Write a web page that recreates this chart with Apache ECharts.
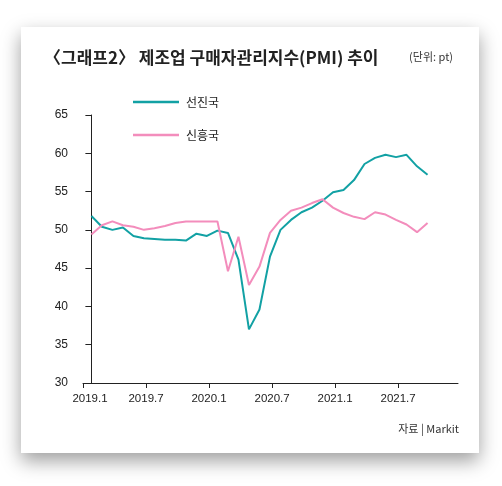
<!DOCTYPE html>
<html>
<head>
<meta charset="utf-8">
<script src="https://cdn.jsdelivr.net/npm/echarts@6/dist/echarts.min.js"></script>
<style>
  html, body { margin: 0; padding: 0; background: #fff; }
  #chart { width: 502px; height: 486px; }
</style>
</head>
<body>
<div id="chart"></div>
<script>
// monthly PMI, 2019.1 ~ 2021.9
var months = [
  '2019.1','2019.2','2019.3','2019.4','2019.5','2019.6','2019.7','2019.8','2019.9','2019.10','2019.11','2019.12',
  '2020.1','2020.2','2020.3','2020.4','2020.5','2020.6','2020.7','2020.8','2020.9','2020.10','2020.11','2020.12',
  '2021.1','2021.2','2021.3','2021.4','2021.5','2021.6','2021.7','2021.8','2021.9'
];
var advanced = [
  51.8, 50.4, 50.0, 50.3, 49.2, 48.9, 48.8, 48.7, 48.7, 48.6, 49.5, 49.2,
  49.9, 49.6, 46.1, 37.0, 39.6, 46.5, 50.0, 51.3, 52.3, 52.9, 53.8, 54.9,
  55.2, 56.5, 58.6, 59.4, 59.8, 59.5, 59.8, 58.3, 57.2
];
var emerging = [
  49.4, 50.6, 51.1, 50.6, 50.4, 50.0, 50.2, 50.5, 50.9, 51.1, 51.1, 51.1,
  51.1, 44.6, 49.1, 42.8, 45.2, 49.6, 51.3, 52.5, 52.9, 53.5, 54.0, 52.9,
  52.2, 51.7, 51.4, 52.3, 52.0, 51.3, 50.7, 49.7, 50.9
];
var seriesNames = ['선진국', '신흥국'];

// ticks sit a little before the month's point in the original
var labelLead = 0.8;

function pairs(vals) {
  var out = [];
  for (var i = 0; i < vals.length; i++) out.push([i, vals[i]]);
  return out;
}

var chart = echarts.init(document.getElementById('chart'));

var option = {
  backgroundColor: '#fff',
  animation: false,
  textStyle: { fontFamily: '"Liberation Sans", Arial, sans-serif' },
  graphic: [
    {
      type: 'rect', z: -10, silent: true,
      shape: { x: 21, y: 27, width: 458, height: 426 },
      style: { fill: '#fff', shadowBlur: 18, shadowOffsetY: 8, shadowColor: 'rgba(0,0,0,0.38)' }
    },
    {
      type: 'text', x: 44, y: 49,
      style: {
        text: '〈그래프2〉 제조업 구매자관리지수(PMI) 추이',
        font: 'bold 17px "Noto Sans CJK KR", sans-serif',
        fill: '#222'
      }
    },
    {
      type: 'text', x: 453, y: 51,
      style: {
        text: '(단위: pt)',
        align: 'right',
        font: '11px "Noto Sans CJK KR", sans-serif',
        fill: '#333'
      }
    },
    {
      type: 'text', x: 459, y: 423,
      style: {
        text: '자료 | Markit',
        align: 'right',
        font: '11px "Noto Sans CJK KR", sans-serif',
        fill: '#333'
      }
    }
  ],
  legend: {
    data: seriesNames,
    orient: 'vertical',
    left: 128,
    top: 91,
    itemWidth: 46,
    itemHeight: 14,
    itemGap: 21,
    icon: 'path://M0,6 L46,6 L46,8.5 L0,8.5 Z',
    textStyle: { fontSize: 12, color: '#222', fontFamily: '"Noto Sans CJK KR", sans-serif', padding: [0, 0, 0, 2] }
  },
  grid: { left: 83, right: 44, top: 115, bottom: 103, containLabel: false },
  xAxis: {
    type: 'value',
    min: -labelLead,
    max: 34.9,
    interval: 6,
    splitLine: { show: false },
    axisLine: { show: true, lineStyle: { color: '#222', width: 1 } },
    axisTick: { show: true, length: 5, lineStyle: { color: '#222' } },
    axisLabel: {
      margin: 10,
      fontSize: 11.5,
      color: '#222',
      showMaxLabel: false,
      formatter: function (v) {
        var idx = Math.round(v + labelLead);
        var txt = months[idx] || '';
        return idx === 0 ? '{first|' + txt + '}' : txt;
      },
      rich: { first: { fontSize: 11.5, color: '#222', padding: [0, 0, 0, 14] } }
    }
  },
  yAxis: {
    type: 'value',
    min: 30,
    max: 65,
    interval: 5,
    splitLine: { show: false },
    axisLine: { show: true, lineStyle: { color: '#222', width: 1 } },
    axisTick: { show: true, length: 6, lineStyle: { color: '#222' } },
    axisLabel: { margin: 15, fontSize: 12, color: '#222' }
  },
  series: [
    {
      name: seriesNames[0],
      type: 'line',
      data: pairs(advanced),
      symbol: 'none',
      lineStyle: { color: '#12a1a4', width: 2 },
      itemStyle: { color: '#12a1a4' }
    },
    {
      name: seriesNames[1],
      type: 'line',
      data: pairs(emerging),
      symbol: 'none',
      lineStyle: { color: '#f38dbc', width: 2 },
      itemStyle: { color: '#f38dbc' }
    }
  ]
};

chart.setOption(option);
</script>
</body>
</html>
